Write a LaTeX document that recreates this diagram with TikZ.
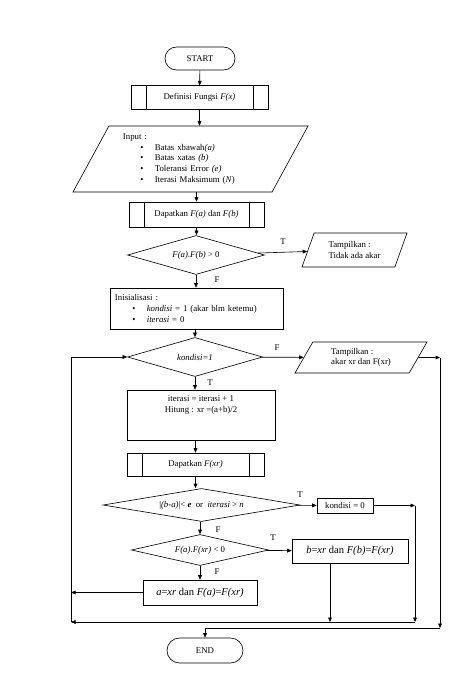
\documentclass[tikz,border=0pt]{standalone}
\usepackage{fontspec}
\setmainfont{Liberation Serif}
\usetikzlibrary{positioning,arrows.meta,calc,shapes.geometric}
\newcommand{\bitem}[1]{\hspace*{7mm}\textbullet\hspace{4.5mm}#1}
\tikzset{
  term/.style={draw,rounded corners=0.46cm,minimum height=0.92cm,align=center},
  box/.style={draw,inner sep=3pt,align=center},
  subbox/.style={draw,inner sep=3pt,align=center,minimum height=0.94cm,
    path picture={
      \draw ([xshift=0.6cm]path picture bounding box.north west) -- ([xshift=0.6cm]path picture bounding box.south west);
      \draw ([xshift=-0.6cm]path picture bounding box.north east) -- ([xshift=-0.6cm]path picture bounding box.south east);}},
  cond/.style={diamond,draw,aspect=5,inner sep=0pt},
  io/.style={trapezium,draw,trapezium stretches body,align=left,inner sep=2pt},
  flow/.style={-{Triangle[length=1.8mm,width=1.5mm]}},
  lbl/.style={inner sep=1pt}}
\begin{document}
\begin{tikzpicture}[x=0.04cm,y=-0.04cm,line width=0.7pt]
  \useasboundingbox (0,0) rectangle (466,676);
  % main column
  \node[term,minimum width=2.8cm] (start) at (200,58.5) {START};
  \node[subbox,minimum width=5.48cm] (def) at (199.5,97.5) {Definisi Fungsi \textit{F(x)}};
  \node[io,text width=5.4cm,trapezium left angle=56,trapezium right angle=124,minimum width=9.4cm,minimum height=2.64cm] (in) at (190.5,159) {Input :\\
    \bitem{Batas xbawah\textit{(a)}}\\
    \bitem{Batas xatas \textit{(b)}}\\
    \bitem{Toleransi Error \textit{(e)}}\\
    \bitem{Iterasi Maksimum (\textit{N})}};
  \node[subbox,minimum width=5.4cm,minimum height=1cm] (fab) at (196.5,214.5) {Dapatkan \textit{F(a)} dan \textit{F(b)}};
  \node[cond,minimum width=5.48cm,minimum height=1.56cm] (c1) at (196,255) {\textit{F(a).F(b)} > 0};
  \node[io,trapezium left angle=59,trapezium right angle=121,minimum width=4.2cm,minimum height=1.36cm] (out1) at (354.5,250) {Tampilkan :\\Tidak ada akar};
  \node[box,align=left,inner sep=0.2cm,text width=6.52cm,minimum height=1.64cm] (init) at (196.5,308.5) {Inisialisasi :\\
    \bitem{\textit{kondisi} = 1 (akar blm ketemu)}\\
    \bitem{\textit{iterasi} = 0}};
  \node[cond,minimum width=5.4cm,minimum height=1.56cm] (c2) at (195,357) {\textit{kondisi=1}};
  \node[io,trapezium left angle=51,trapezium right angle=129,minimum width=5.28cm,minimum height=1.24cm] (out2) at (361,357.5) {Tampilkan :\\akar xr dan F(xr)};
  \node[box,inner sep=2pt,minimum width=5.92cm,minimum height=2cm] (iter) at (201,415) {iterasi = iterasi + 1\\Hitung : xr =(a+b)/2\\[4.5mm]~};
  \node[subbox,minimum width=5.48cm,minimum height=0.92cm] (dfx) at (195.5,464.5) {Dapatkan \textit{F(xr)}};
  \node[cond,minimum width=7.88cm,minimum height=1.32cm] (c3) at (201.5,505) {|\textit{(b-a)}|< \textbf{\textit{e}}~ or~ \textit{iterasi} > \textit{n}};
  \node[box,minimum width=2.24cm,minimum height=0.6cm,inner sep=1pt] (k0) at (345,505.5) {kondisi = 0};
  \node[cond,minimum width=5.48cm,minimum height=1.24cm] (c4) at (200,550) {\textit{F(a).F(xr)} < 0};
  \node[box,font=\large,minimum width=4.64cm,minimum height=0.96cm] (bxr) at (350,551) {\textit{b}=\textit{xr} dan \textit{F(b)}=\textit{F(xr)}};
  \node[box,font=\large,minimum width=4.56cm,minimum height=1cm] (axr) at (200,592.5) {\textit{a}=\textit{xr} dan \textit{F(a)}=\textit{F(xr)}};
  \node[term,minimum width=3.04cm,minimum height=1cm,rounded corners=0.5cm] (end) at (205,650.5) {END};
  % branch labels
  \node[lbl] (t1) at (283,242) {T};
  \node[lbl] (f1) at (217,280) {F};
  \node[lbl] (f2) at (277,348) {F};
  \node[lbl] (t2) at (210,383) {T};
  \node[lbl] (t3) at (300,495) {T};
  \node[lbl] (f3) at (218,530) {F};
  \node[lbl] (t4) at (273,538) {T};
  \node[lbl] (f4) at (217,572) {F};
  % bends
  \coordinate (l1) at (71,357);
  \coordinate (j1) at (415,622);
  \coordinate (r1) at (415,505.5);
  \coordinate (r2) at (440,357.5);
  \coordinate (r3) at (440,628);
  % connectors
  \draw[flow] (start) -- (def);
  \draw[flow] (def) -- (def |- in.north);
  \draw[flow] (in.south -| fab) -- (fab);
  \draw[flow] (fab) -- (fab |- c1.north);
  \draw[flow] (c1) -- (out1);
  \draw[flow] (c1) -- (c1 |- init.north);
  \draw[flow] (init.south -| c2) -- (c2);
  \draw[flow] (c2) -- (out2);
  \draw[flow] (c2) -- (c2 |- iter.north);
  \draw[flow] (iter.south -| dfx) -- (dfx);
  \draw[flow] (dfx) -- (dfx |- c3.north);
  \draw[flow] (c3) -- (k0);
  \draw[flow] (k0) -- (r1);
  \draw[flow] (r1) -- (j1);
  \draw[flow] (c3.south -| c4) -- (c4);
  \draw[flow] (c4) -- (bxr);
  \draw[flow] (c4) -- (axr);
  \draw[flow] ([xshift=-0.8cm]bxr.south) -- ([xshift=-0.8cm]bxr.south |- j1);
  \draw[flow] (j1) -- (j1 -| l1);
  \draw[flow] (axr) -- (axr -| l1);
  \draw[flow] (j1 -| l1) -- (l1) -- (c2);
  \draw[flow] (out2) -- (r2);
  \draw[flow] (r2) -- (r3);
  \draw[flow] (r3) -| (end);
\end{tikzpicture}
\end{document}
